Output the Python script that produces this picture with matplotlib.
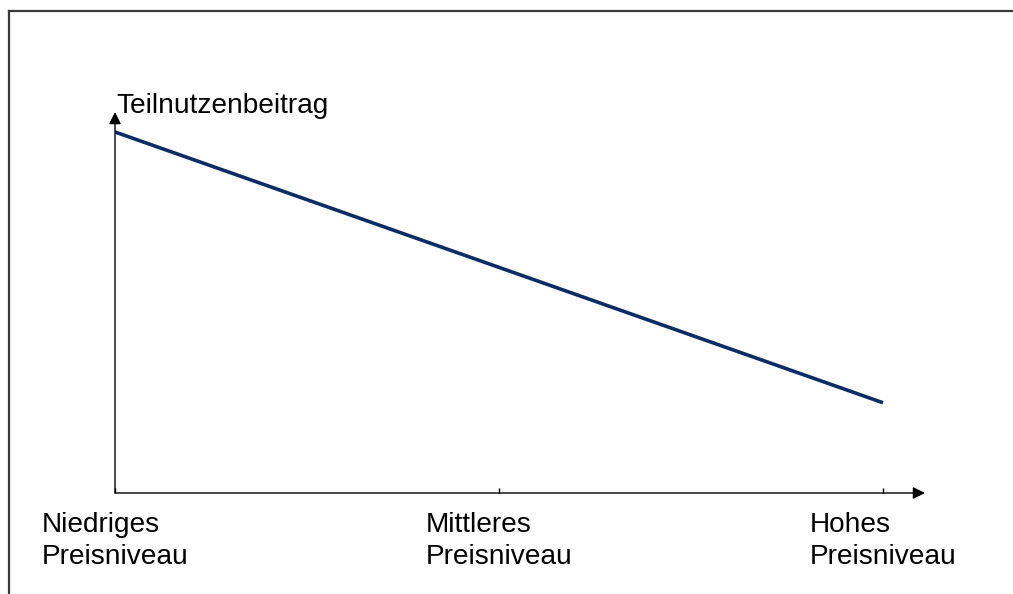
import matplotlib
matplotlib.use("Agg")
import matplotlib.pyplot as plt
from matplotlib.lines import Line2D

categories = ["Niedriges\nPreisniveau", "Mittleres\nPreisniveau", "Hohes\nPreisniveau"]
x_pos = [0, 1, 2]
teilnutzen = [4.0, 2.5, 1.0]
y_label = "Teilnutzenbeitrag"

W, H = 1013, 594
plt.rcParams['font.family'] = ['Liberation Sans', 'DejaVu Sans']
fig = plt.figure(figsize=(W / 100, H / 100), dpi=100)

# outer frame (top and left lines)
fig.add_artist(Line2D([8.5 / W, 1.0], [1 - 10.5 / H, 1 - 10.5 / H], transform=fig.transFigure,
                      color="#3a3a3a", lw=1.6))
fig.add_artist(Line2D([8.5 / W, 8.5 / W], [0, 1 - 10.5 / H], transform=fig.transFigure,
                      color="#3a3a3a", lw=1.6))

x0, x1 = 115, 930
y0, y1 = 493, 108
ax = fig.add_axes([x0 / W, (H - y0) / H, (x1 - x0) / W, (y0 - y1) / H])
ax.patch.set_visible(False)

xscale = 384.0  # px per unit
ax.set_xlim(0, (x1 - x0) / xscale)
yscale = 90.25
ax.set_ylim(0, (y0 - y1) / yscale)

ax.plot(x_pos, teilnutzen, color="#0B2C64", lw=2.6, solid_capstyle="butt")

for s in ax.spines.values():
    s.set_visible(False)

# axes with arrows
ax.annotate("", xy=((925 - x0) / (x1 - x0), 0), xytext=(0, 0), xycoords="axes fraction",
            arrowprops=dict(arrowstyle="-|>", color="black", lw=1.0, mutation_scale=18,
                            shrinkA=0, shrinkB=0))
ax.annotate("", xy=(0, (y0 - 112) / (y0 - y1)), xytext=(0, 0), xycoords="axes fraction",
            arrowprops=dict(arrowstyle="-|>", color="black", lw=1.0, mutation_scale=18,
                            shrinkA=0, shrinkB=0))

ax.set_yticks([])
ax.set_xticks(x_pos)
ax.set_xticklabels(categories, fontsize=20.2, linespacing=1.3)
for lbl in ax.get_xticklabels():
    lbl.set_multialignment("left")
ax.tick_params(axis="x", direction="in", length=3.5, width=1, color="black", pad=14)

ax.text(1 / (x1 - x0), (y0 - 113) / (y0 - y1), y_label, transform=ax.transAxes,
        ha="left", va="baseline", fontsize=20.2)

fig.savefig("out.png", dpi=100)
